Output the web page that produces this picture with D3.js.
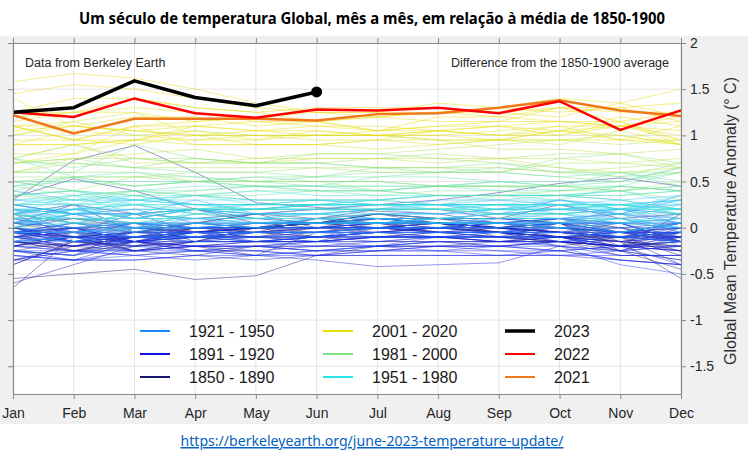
<!DOCTYPE html>
<html>
<head>
<meta charset="utf-8">
<script src="https://cdn.jsdelivr.net/npm/d3@7"></script>
<style>
  body { margin: 0; background: #fff; }
  svg { display: block; font-family: "Liberation Sans", Arial, sans-serif; }
</style>
</head>
<body>
<svg id="chart" width="748" height="454"></svg>
<script>
// * chart values (°C, difference from the 1850-1900 average)
var months = ["Jan", "Feb", "Mar", "Apr", "May", "Jun", "Jul", "Aug", "Sep", "Oct", "Nov", "Dec"];
var yTicks = [-1.5, -1, -0.5, 0, 0.5, 1, 1.5, 2];
var firstYear = 1850;

var years1850to1890 = [
  [-.65,-.1,-.25,-.2,-.3,-.05,0,.05,-.1,-.15,-.2,0],
  [-.15,-.2,-.05,.05,.15,.1,.2,.2,.1,.25,.1,.15],
  [0,-.1,.05,-.15,0,.1,.15,.1,.1,.05,-.2,.15],
  [.05,0,-.05,-.1,-.1,0,.1,.05,-.05,-.1,-.15,-.55],
  [-.2,-.1,-.15,0,-.05,.1,.05,.05,0,.05,-.15,-.05],
  [0,.1,.05,-.05,0,.05,.1,.05,0,-.05,-.1,-.3],
  [-.15,-.25,-.15,-.2,-.15,-.1,-.05,-.1,-.1,-.15,-.2,-.15],
  [-.2,-.05,-.25,-.3,-.2,-.15,-.1,-.1,-.15,-.1,-.25,-.1],
  [-.1,-.15,-.2,-.15,-.05,0,0,-.05,-.1,.05,-.25,-.45],
  [.05,.1,0,.05,.05,.05,.15,.1,0,.1,-.05,0],
  [-.05,-.25,-.2,-.1,-.05,0,.05,0,0,-.05,-.15,-.2],
  [-.4,-.15,-.2,-.15,0,.05,.1,.05,0,-.05,-.1,.05],
  [-.55,-.5,-.45,-.56,-.52,-.3,-.2,-.2,-.15,-.15,-.25,-.35],
  [.33,.53,.4,.2,.05,0,-.05,0,-.05,-.1,-.05,-.1],
  [-.35,-.2,-.1,-.05,0,-.05,.05,-.05,-.05,-.2,-.1,-.25],
  [0,-.15,-.1,-.05,0,.05,.15,.1,.05,0,-.1,-.15],
  [.15,.05,-.05,0,0,.05,.1,.05,0,0,-.05,-.05],
  [-.05,0,-.2,0,.05,.05,.05,.1,.1,.05,0,-.1],
  [-.25,-.15,-.05,-.05,.05,.05,.1,.1,.05,0,-.05,.05],
  [.15,.25,-.05,.05,0,0,0,.05,0,-.05,.05,-.15],
  [-.05,-.1,-.1,0,0,.05,.15,.05,0,-.1,-.1,-.4],
  [-.25,-.3,0,0,0,0,0,0,-.05,-.1,-.15,-.2],
  [-.1,-.1,-.05,.05,0,.05,.05,.05,.05,.1,0,-.15],
  [0,-.1,-.05,0,0,.05,.1,.05,0,.05,-.1,-.05],
  [.15,-.1,0,-.05,0,.05,0,0,-.05,-.05,-.1,-.1],
  [-.1,-.2,-.25,-.15,-.1,-.05,-.05,0,-.05,-.15,-.2,-.15],
  [.05,-.05,-.1,-.1,0,.05,0,.05,-.05,-.1,-.2,-.2],
  [-.05,.05,.05,.05,.15,.2,.25,.3,.38,.48,.54,.45],
  [.3,.73,.89,.6,.27,.22,.18,.15,.05,0,-.05,-.15],
  [-.05,0,0,-.05,0,0,0,-.05,-.05,-.1,-.15,-.25],
  [-.05,-.1,-.05,-.05,0,-.1,-.05,0,-.05,-.1,-.1,-.05],
  [-.1,-.05,.15,.1,.15,0,.05,.05,0,-.05,-.1,0],
  [.25,.15,.15,-.05,-.05,-.1,0,.05,.05,-.05,-.05,-.15],
  [-.15,-.2,-.1,-.05,0,.05,.05,-.05,-.1,-.1,-.1,-.1],
  [-.1,0,-.15,-.25,-.2,-.2,-.2,-.15,-.15,-.15,-.2,-.15],
  [-.4,-.15,-.1,-.15,-.15,-.15,-.1,-.05,0,-.05,0,.05],
  [-.15,-.25,-.1,-.05,-.1,-.15,0,-.05,0,-.1,-.1,-.05],
  [-.35,-.25,-.15,-.1,-.15,-.1,-.1,-.1,-.1,-.15,-.2,-.1],
  [-.2,-.2,-.15,-.05,-.05,-.05,0,0,.05,.1,.05,.05],
  [.05,.25,.15,.2,.1,.05,.05,.05,0,.05,-.05,.05],
  [-.1,-.05,-.15,-.15,-.15,-.15,-.15,-.15,-.15,-.15,-.2,-.25]
];

var years1891to1920 = [
  [-.15,-.2,-.1,-.1,-.05,-.1,-.1,-.05,-.05,-.1,-.2,-.05],
  [-.2,-.1,-.25,-.2,-.2,-.25,-.25,-.2,-.2,-.15,-.3,-.3],
  [-.6,-.4,-.2,-.2,-.25,-.2,-.15,-.15,-.2,-.15,-.2,-.25],
  [-.2,-.1,-.15,-.1,-.1,-.1,-.15,-.1,-.15,-.1,-.15,-.1],
  [-.25,-.3,-.15,-.1,-.1,-.1,-.05,-.05,-.05,-.05,-.1,-.1],
  [-.05,-.1,-.1,-.1,-.05,0,0,0,-.05,0,-.05,0],
  [-.05,-.05,-.1,0,0,0,.05,0,0,-.05,-.1,-.15],
  [0,-.15,-.25,-.15,-.15,-.15,-.1,-.1,-.15,-.2,-.25,-.2],
  [-.05,-.15,-.15,-.05,-.1,-.1,-.05,0,.05,.05,.05,-.15],
  [-.1,0,.05,0,0,0,.05,.05,0,.05,-.05,.05],
  [0,-.05,.05,0,-.05,-.05,0,-.05,-.1,-.1,-.2,-.2],
  [-.05,0,-.15,-.2,-.2,-.2,-.2,-.2,-.2,-.25,-.35,-.4],
  [-.15,0,-.15,-.25,-.25,-.3,-.3,-.3,-.3,-.3,-.35,-.4],
  [-.35,-.35,-.35,-.3,-.35,-.3,-.3,-.3,-.3,-.25,-.2,-.25],
  [-.25,-.35,-.15,-.2,-.15,-.15,-.1,-.1,-.1,-.1,-.05,-.05],
  [-.1,-.2,-.15,-.05,-.15,-.1,-.1,-.1,-.15,-.1,-.25,-.05],
  [-.3,-.35,-.25,-.25,-.3,-.35,-.42,-.4,-.38,-.2,-.3,-.3],
  [-.25,-.25,-.3,-.25,-.25,-.3,-.25,-.25,-.25,-.3,-.3,-.3],
  [-.35,-.25,-.3,-.35,-.3,-.3,-.25,-.2,-.25,-.25,-.2,-.4],
  [-.2,-.25,-.25,-.2,-.2,-.25,-.2,-.2,-.2,-.25,-.35,-.4],
  [-.3,-.35,-.35,-.3,-.3,-.25,-.25,-.25,-.2,-.15,-.15,-.1],
  [-.15,-.1,-.15,-.1,-.1,-.15,-.2,-.25,-.3,-.3,-.25,-.2],
  [-.2,-.25,-.25,-.2,-.2,-.25,-.2,-.15,-.15,-.15,-.1,-.05],
  [0,-.1,-.1,-.1,-.05,-.05,-.05,-.05,-.05,0,-.05,-.05],
  [-.05,.05,0,-.05,0,0,0,0,0,-.05,-.05,-.1],
  [-.15,-.1,-.2,-.15,-.15,-.2,-.2,-.15,-.2,-.2,-.25,-.35],
  [-.3,-.35,-.3,-.25,-.3,-.25,-.2,-.1,-.1,-.2,-.4,-.5],
  [-.25,-.3,-.2,-.25,-.2,-.15,-.1,-.1,-.1,-.05,-.1,-.05],
  [-.05,-.15,-.15,-.1,-.15,-.15,-.15,-.1,-.05,-.1,-.2,-.15],
  [-.05,-.1,-.1,-.1,-.15,-.1,-.05,-.1,-.05,-.15,-.1,-.15]
];

var years1921to1950 = [
  [.1,-.05,-.05,-.05,-.05,-.05,0,-.05,-.05,.05,-.05,0],
  [-.05,-.15,-.05,-.1,-.1,-.1,-.1,-.1,-.1,-.1,-.05,-.05],
  [-.05,-.15,-.15,-.15,-.15,-.1,-.05,-.05,-.05,.05,.1,-.05],
  [-.1,-.15,-.1,-.15,-.1,-.05,-.1,-.1,-.1,-.1,-.05,-.15],
  [-.15,-.15,-.05,-.05,-.05,-.05,0,.05,.05,.1,.15,.1],
  [.2,.15,.2,.05,0,0,0,0,.05,0,.05,-.1],
  [-.05,0,-.1,-.05,-.05,-.05,0,0,0,.05,.05,-.15],
  [.05,0,-.1,-.05,-.05,-.05,0,0,-.05,0,0,0],
  [-.25,-.3,-.1,-.1,-.1,-.1,-.05,-.05,-.05,-.05,0,-.2],
  [-.05,-.05,0,0,0,0,.05,.05,.05,.05,.2,.15],
  [.1,0,.05,0,0,.1,.1,.05,.05,.1,.05,.1],
  [.2,-.05,.05,0,0,0,0,0,.1,.05,-.05,.05],
  [-.05,-.05,-.1,-.1,-.05,-.05,-.05,-.05,-.05,-.05,-.1,-.15],
  [-.05,.05,-.05,0,.05,.05,.05,.05,0,.05,.05,0],
  [0,.15,0,-.1,-.05,-.05,0,0,0,0,-.1,-.05],
  [-.1,-.15,0,0,.05,.05,.1,.05,.05,.05,.05,.05],
  [.05,.15,0,.05,.1,.1,.15,.15,.2,.2,.15,.05],
  [.2,.2,.25,.15,.1,.05,.1,.1,.15,.2,.2,.05],
  [.1,.1,.05,.05,.05,.05,.05,.1,.05,.05,.15,.35],
  [.05,.2,.2,.2,.2,.2,.2,.2,.15,.2,.15,.3],
  [.15,.2,.1,.2,.2,.25,.25,.25,.15,.3,.2,.25],
  [.25,.15,.15,.2,.15,.2,.15,.15,.15,.15,.2,.15],
  [.1,.2,.1,.2,.15,.15,.2,.15,.2,.3,.25,.3],
  [.4,.3,.3,.25,.25,.3,.3,.35,.35,.35,.3,.2],
  [.25,.15,.15,.3,.15,.15,.2,.3,.3,.25,.15,.05],
  [.2,.1,.1,.1,.05,.05,.05,.1,.15,.1,.15,-.05],
  [.05,.05,.15,.2,.1,.15,.1,.1,.1,.15,.1,.05],
  [.2,.05,0,.1,.15,.15,.1,.1,.1,.1,.1,0],
  [.1,0,.05,.1,.05,.05,.05,.05,.1,.1,.05,0],
  [-.15,-.1,0,0,.05,.1,.05,.05,.05,0,-.05,.05]
];

var years1951to1980 = [
  [-.05,-.05,0,.15,.2,.2,.25,.25,.3,.3,.2,.3],
  [.3,.25,.1,.2,.15,.15,.2,.25,.25,.15,.05,.15],
  [.25,.25,.3,.35,.3,.3,.25,.25,.2,.25,.15,.2],
  [0,.15,.05,.05,.05,.05,.05,.1,.15,.15,.2,.1],
  [.15,.05,-.05,.05,.05,.1,.05,.1,.1,.1,-.05,.05],
  [0,-.05,0,.05,0,.05,.05,.05,.05,0,.05,.1],
  [.05,.15,.2,.2,.25,.25,.25,.25,.25,.25,.3,.35],
  [.5,.4,.3,.25,.25,.25,.3,.25,.25,.25,.25,.3],
  [.3,.3,.35,.25,.25,.25,.25,.25,.2,.2,.25,.2],
  [.15,.25,-.05,.2,.2,.25,.2,.2,.25,.25,.2,.35],
  [.3,.35,.3,.3,.3,.3,.25,.25,.25,.25,.25,.2],
  [.25,.3,.25,.25,.2,.25,.25,.25,.25,.2,.25,.25],
  [.15,.35,.15,.2,.2,.25,.3,.35,.35,.35,.4,.25],
  [.2,.2,.1,.1,.1,.1,.1,.05,.05,.05,.1,0],
  [.15,.05,.15,.1,.1,.15,.15,.15,.2,.2,.2,.2],
  [.1,.2,.25,.15,.2,.25,.25,.2,.2,.15,.2,.2],
  [.2,.15,.25,.25,.25,.25,.25,.25,.25,.3,.2,.2],
  [0,.2,.35,.25,.2,.2,.2,.2,.2,.25,.25,.15],
  [.2,.15,.3,.35,.4,.35,.35,.35,.35,.35,.4,.45],
  [.35,.4,.25,.35,.25,.25,.25,.2,.25,.25,.25,.15],
  [.15,.1,.05,.15,.15,.15,.2,.2,.2,.2,.25,.2],
  [0,.05,.15,.2,.25,.3,.3,.35,.3,.35,.35,.4],
  [.45,.5,.5,.5,.45,.45,.4,.35,.35,.35,.3,.2],
  [.1,.1,.1,.2,.2,.2,.2,.2,.15,.15,.15,.15],
  [.25,.25,.25,.2,.2,.2,.2,.2,.15,.15,.05,.1],
  [.15,.05,.05,.15,.1,.1,.15,.1,.15,.05,.1,.25],
  [.25,.35,.4,.45,.45,.45,.45,.45,.4,.4,.45,.4],
  [.35,.4,.35,.35,.3,.3,.3,.25,.35,.3,.45,.4],
  [.4,.25,.4,.35,.35,.4,.4,.45,.5,.5,.5,.65],
  [.45,.55,.45,.5,.55,.5,.5,.45,.5,.45,.6,.5]
];

var years1981to2000 = [
  [.75,.55,.6,.55,.5,.45,.55,.55,.5,.45,.5,.65],
  [.35,.4,.35,.4,.45,.4,.4,.45,.45,.4,.45,.6],
  [.7,.7,.65,.6,.6,.55,.55,.6,.6,.55,.6,.45],
  [.45,.35,.4,.4,.45,.4,.4,.45,.45,.45,.4,.3],
  [.35,.3,.4,.35,.4,.4,.35,.4,.4,.35,.35,.4],
  [.5,.5,.45,.5,.45,.45,.45,.45,.45,.45,.45,.4],
  [.5,.55,.45,.5,.55,.55,.65,.6,.65,.6,.55,.7],
  [.75,.65,.75,.7,.7,.7,.65,.65,.7,.65,.55,.6],
  [.4,.55,.55,.55,.5,.55,.6,.6,.6,.55,.5,.6],
  [.6,.6,.9,.75,.7,.7,.65,.65,.6,.75,.8,.7],
  [.7,.75,.65,.75,.7,.8,.8,.75,.7,.6,.6,.6],
  [.6,.6,.6,.5,.5,.5,.4,.35,.35,.4,.4,.45],
  [.55,.55,.55,.5,.5,.5,.5,.45,.45,.45,.4,.5],
  [.5,.4,.55,.6,.6,.65,.6,.6,.6,.7,.7,.65],
  [.75,.9,.75,.75,.7,.7,.75,.8,.75,.8,.8,.65],
  [.6,.7,.65,.65,.65,.65,.65,.65,.65,.6,.65,.7],
  [.7,.75,.75,.7,.75,.8,.8,.85,.9,.95,.9,.95],
  [1,1.15,1,1.05,1,1,1,.95,.85,.85,.8,.85],
  [.75,.9,.7,.7,.7,.75,.75,.7,.75,.75,.7,.75],
  [.6,.75,.8,.85,.75,.75,.75,.75,.75,.65,.6,.65]
];

var years2001to2020 = [
  [.8,.8,.95,.9,.9,.9,.95,.9,.95,.9,1.05,.9],
  [1.1,1.15,1.25,1,1,1,1,.95,.95,.95,1,.9],
  [1.1,.95,.95,.95,1,.95,.95,1.05,1,1.1,.95,1.1],
  [1,1.1,1.05,1,.9,.9,.85,.9,.95,1.05,1.1,.95],
  [1.1,.95,1.1,1.1,1.05,1.1,1.05,1.05,1.1,1.15,1.1,1],
  [.9,1.05,1,.95,.95,1.05,1,1,1.05,1.1,1.1,1.15],
  [1.4,1.1,1.05,1.1,1.05,1,1,1,.95,.95,.95,.9],
  [.7,.8,1.1,.9,.9,.9,.95,.95,.95,1.05,1,.9],
  [.95,.95,.9,1,1,1,1.05,1.1,1.1,1,1.1,1.05],
  [1.15,1.25,1.3,1.25,1.15,1.1,1.1,1.05,1,1,1.15,.9],
  [.9,.9,.95,1.05,.95,1,1,1.05,1,1.05,.95,.95],
  [.9,.9,.95,1.1,1.15,1.15,1.05,1.1,1.15,1.15,1.15,.95],
  [1.05,1.1,1.05,1,1.05,1.05,1,1.05,1.1,1.05,1.2,1.1],
  [1.1,.95,1.1,1.15,1.2,1.15,1.05,1.2,1.2,1.15,1.1,1.2],
  [1.2,1.25,1.25,1.15,1.2,1.25,1.2,1.25,1.3,1.4,1.35,1.5],
  [1.58,1.67,1.62,1.5,1.35,1.25,1.25,1.35,1.3,1.25,1.3,1.15],
  [1.25,1.4,1.4,1.3,1.25,1.15,1.2,1.25,1.2,1.3,1.25,1.25],
  [1.1,1.1,1.2,1.2,1.1,1.15,1.2,1.15,1.15,1.3,1.15,1.25],
  [1.25,1.25,1.4,1.3,1.25,1.3,1.3,1.3,1.25,1.3,1.3,1.35],
  [1.45,1.55,1.5,1.4,1.3,1.25,1.25,1.25,1.25,1.2,1.35,1.2]
];

var series2021 = [1.22, 1.02, 1.18, 1.18, 1.18, 1.16, 1.23, 1.24, 1.30, 1.38, 1.27, 1.21];
var series2022 = [1.25, 1.20, 1.40, 1.24, 1.19, 1.28, 1.27, 1.30, 1.24, 1.37, 1.06, 1.27];
var series2023 = [1.25, 1.30, 1.59, 1.41, 1.32, 1.47];

var legendColumns = [
  ["1921 - 1950", "1891 - 1920", "1850 - 1890"],
  ["2001 - 2020", "1981 - 2000", "1951 - 1980"],
  ["2023", "2022", "2021"]
];

// * styles
var legendColors = {
  "1921 - 1950": "#1e88ff", "1891 - 1920": "#1212e6", "1850 - 1890": "#14146e",
  "2001 - 2020": "#e6e000", "1981 - 2000": "#80e080", "1951 - 1980": "#28e6e6",
  "2023": "#000000", "2022": "#ff0000", "2021": "#f07818"
};
var yearColor = d3.scaleLinear()
  .domain([1850, 1885, 1905, 1935, 1965, 1990, 2005, 2020])
  .range(["#15156e", "#1a1aa0", "#1010e6", "#1e88ff", "#28e0e6", "#80e080", "#e6e010", "#e8d800"]);

var svg = d3.select('#chart');
var plotLeft = 13, plotRight = 681, plotTop = 43, plotBottom = 394;

var x = d3.scalePoint().domain(months).range([plotLeft, plotRight]);
var y = d3.scaleLinear().domain([-1.8, 2]).range([plotBottom, plotTop]);

// gray figure background and white plot box
svg.append('rect').attr('x', 0).attr('y', 36).attr('width', 748).attr('height', 388).attr('fill', '#f0f0f0');
svg.append('rect').attr('x', plotLeft).attr('y', plotTop)
  .attr('width', plotRight - plotLeft).attr('height', plotBottom - plotTop).attr('fill', '#fff');

// grid
var grid = svg.append('g').attr('stroke', '#e4e4e4').attr('stroke-width', 1);
grid.selectAll('line.v').data(months).enter().append('line')
  .attr('x1', function (d) { return x(d); }).attr('x2', function (d) { return x(d); })
  .attr('y1', plotTop).attr('y2', plotBottom);
grid.selectAll('line.h').data(yTicks).enter().append('line')
  .attr('x1', plotLeft).attr('x2', plotRight)
  .attr('y1', function (d) { return y(d); }).attr('y2', function (d) { return y(d); });

// * one line per year, oldest first
var allYears = [].concat(years1850to1890, years1891to1920, years1921to1950,
                         years1951to1980, years1981to2000, years2001to2020);
var line = d3.line()
  .x(function (d, i) { return x(months[i]); })
  .y(function (d) { return y(d); });

svg.append('g').attr('fill', 'none')
  .selectAll('path').data(allYears).enter().append('path')
  .attr('d', line)
  .attr('stroke', function (d, i) { return yearColor(firstYear + i); })
  .attr('stroke-width', 1)
  .attr('stroke-opacity', 0.45);

svg.append('path').datum(series2021).attr('d', line).attr('fill', 'none')
  .attr('stroke', legendColors['2021']).attr('stroke-width', 2.5);
svg.append('path').datum(series2022).attr('d', line).attr('fill', 'none')
  .attr('stroke', legendColors['2022']).attr('stroke-width', 2.5);
svg.append('path').datum(series2023).attr('d', line).attr('fill', 'none')
  .attr('stroke', legendColors['2023']).attr('stroke-width', 3.5).attr('stroke-linejoin', 'round');
svg.append('circle')
  .attr('cx', x(months[series2023.length - 1]))
  .attr('cy', y(series2023[series2023.length - 1]))
  .attr('r', 5.5).attr('fill', '#000');

// axes: box with outward ticks, labels on the right and bottom
function styleAxis(g) {
  g.selectAll('path, line').attr('stroke', '#8a8a8a');
  g.selectAll('text').attr('fill', '#262626').attr('font-size', '14px');
}
svg.append('g').attr('transform', 'translate(' + plotRight + ',0)')
  .call(d3.axisRight(y).tickValues(yTicks).tickSize(5).tickSizeOuter(0).tickPadding(4)
    .tickFormat(function (d) { return String(d); }))
  .call(styleAxis);
svg.append('g').attr('transform', 'translate(' + plotLeft + ',0)')
  .call(d3.axisLeft(y).tickValues(yTicks).tickSize(5).tickSizeOuter(0).tickFormat(''))
  .call(styleAxis);
svg.append('g').attr('transform', 'translate(0,' + plotBottom + ')')
  .call(d3.axisBottom(x).tickSize(5).tickSizeOuter(0).tickPadding(9))
  .call(styleAxis);
svg.append('g').attr('transform', 'translate(0,' + plotTop + ')')
  .call(d3.axisTop(x).tickSize(5).tickSizeOuter(0).tickFormat(''))
  .call(styleAxis);
svg.selectAll('.domain').attr('stroke-width', 1.2);

// legend (transparent, grid shows through)
var legendX = [140, 323, 505], legendY = [331, 354, 377];
legendColumns.forEach(function (col, c) {
  col.forEach(function (label, r) {
    var heavy = label === '2023';
    svg.append('line')
      .attr('x1', legendX[c]).attr('x2', legendX[c] + 30)
      .attr('y1', legendY[r]).attr('y2', legendY[r])
      .attr('stroke', legendColors[label]).attr('stroke-width', heavy ? 3.5 : 2);
    svg.append('text')
      .attr('x', legendX[c] + 49).attr('y', legendY[r]).attr('dy', '0.36em')
      .attr('font-size', '16px').attr('fill', '#1a1a1a')
      .text(label);
  });
});

// annotations
svg.append('text').attr('x', 25).attr('y', 67).attr('font-size', '12.5px').attr('fill', '#262626')
  .text('Data from Berkeley Earth');
svg.append('text').attr('x', 669).attr('y', 67).attr('text-anchor', 'end')
  .attr('font-size', '12.5px').attr('fill', '#262626')
  .text('Difference from the 1850-1900 average');

svg.append('text')
  .attr('transform', 'translate(736,221) rotate(-90)')
  .attr('text-anchor', 'middle').attr('font-size', '16px').attr('fill', '#303030')
  .text('Global Mean Temperature Anomaly (° C)');

svg.append('text').attr('x', 372).attr('y', 24).attr('text-anchor', 'middle')
  .attr('font-family', '"Noto Sans", sans-serif').attr('font-weight', 'bold').attr('font-size', '16.5px')
  .attr('textLength', 586).attr('lengthAdjust', 'spacingAndGlyphs').attr('fill', '#000')
  .text('Um século de temperatura Global, mês a mês, em relação à média de 1850-1900');

svg.append('text').attr('x', 372).attr('y', 446).attr('text-anchor', 'middle')
  .attr('font-family', '"Noto Sans", sans-serif').attr('font-size', '15px')
  .attr('textLength', 383).attr('lengthAdjust', 'spacingAndGlyphs')
  .attr('fill', '#0563c1').attr('text-decoration', 'underline')
  .text('https://berkeleyearth.org/june-2023-temperature-update/');
</script>
</body>
</html>
